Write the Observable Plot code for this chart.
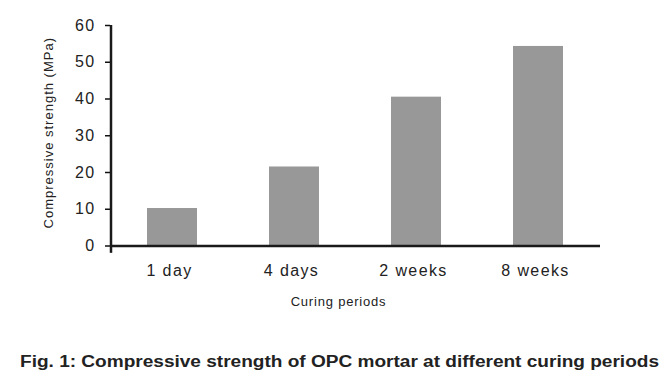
<!DOCTYPE html>
<html>
<head>
<meta charset="utf-8">
<script src="https://cdn.jsdelivr.net/npm/d3@7"></script>
<script src="https://cdn.jsdelivr.net/npm/@observablehq/plot@0.6"></script>
<style>
  html, body { margin: 0; padding: 0; background: #fff; }
  #wrap { position: relative; width: 667px; height: 380px; font-family: "Liberation Sans", Arial, sans-serif; }
  #caption { position: absolute; left: 20px; top: 352px; line-height: 20px; font-size: 16px; font-weight: bold; color: #222; white-space: nowrap; transform: scaleX(1.19); transform-origin: 0 50%; }
</style>
</head>
<body>
<div id="wrap"></div>
<script>
const categories = ["1 day", "4 days", "2 weeks", "8 weeks"];
const strength = [10.2, 21.5, 40.5, 54.3];
const yTicks = [0, 10, 20, 30, 40, 50, 60];
const yLabel = "Compressive strength (MPa)";
const xLabel = "Curing periods";
const captionText = "Fig. 1: Compressive strength of OPC mortar at different curing periods";

const data = categories.map((c, i) => ({period: c, value: strength[i]}));

const plot = Plot.plot({
  width: 667,
  height: 330,
  marginLeft: 110,
  marginRight: 67,
  marginTop: 25,
  marginBottom: 84.5,
  style: {fontFamily: "Liberation Sans, Arial, sans-serif", color: "#222", background: "#fff"},
  x: {domain: categories, paddingInner: 0.59, paddingOuter: 0.3, axis: null},
  y: {domain: [0, 60], axis: null},
  marks: [
    Plot.barY(data, {x: "period", y: "value", fill: "#989898"}),
    Plot.axisX({tickSize: 0, tickPadding: 19, fontSize: 16, label: null, dx: -3}),
    Plot.axisY({ticks: yTicks, tickSize: 5, tickPadding: 10, fontSize: 16, label: null, stroke: "#111", strokeWidth: 1.5}),
    Plot.ruleY([0], {stroke: "#1a1a1a", strokeWidth: 2.5}),
    Plot.ruleX([0], {x: () => categories[0], dx: -61.5, y1: -2, y2: 60, stroke: "#1a1a1a", strokeWidth: 2.5}),
    Plot.text([yLabel], {frameAnchor: "left", textAnchor: "middle", rotate: -90, dx: -62, dy: -3, fontSize: 13, fill: "#222"}),
    Plot.text([xLabel], {frameAnchor: "bottom", dx: -17, dy: 60, fontSize: 13, fill: "#222"})
  ]
});

const svg = d3.select(plot);
svg.selectAll("text").filter(function() { return this.textContent === yLabel; })
  .style("letter-spacing", "1px");
svg.selectAll("text").filter(function() { return this.textContent === xLabel; })
  .style("letter-spacing", "0.8px");
svg.selectAll("[aria-label='x-axis tick label'] text, [aria-label='y-axis tick label'] text")
  .style("letter-spacing", "1.4px");

const wrap = document.getElementById("wrap");
wrap.appendChild(plot);
const cap = document.createElement("div");
cap.id = "caption";
cap.textContent = captionText;
wrap.appendChild(cap);
</script>
</body>
</html>
